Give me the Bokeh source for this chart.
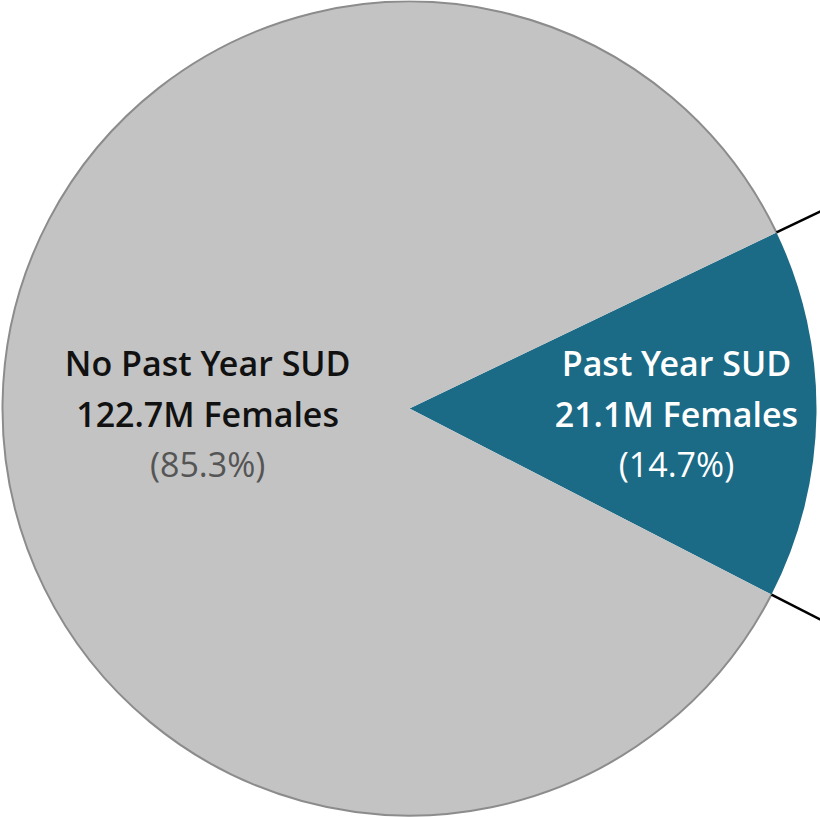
import numpy as np
from bokeh.plotting import figure
from bokeh.models import Range1d, ColumnDataSource
from bokeh.core.properties import value
from bokeh.embed import file_html
from bokeh.resources import INLINE

# ---- data ----
categories = ["Past Year SUD", "No Past Year SUD"]
counts_m = [21.1, 122.7]          # millions of females
percent_labels = ["(14.7%)", "(85.3%)"]
count_labels = ["21.1M Females", "122.7M Females"]
colors = ["#1b6a86", "#c3c3c3"]
pct_colors = ["#ffffff", "#555555"]
name_colors = ["#ffffff", "#111111"]

# ---- layout ----
W, H = 820, 817
CX, CY, R = 409.0, -408.0, 407.0
start_deg = -27.2  # start angle of first slice (degrees, anticlockwise)
label_r = [0.656, 0.496]

vals = np.array(counts_m, dtype=float)
frac = vals / vals.sum()
ends = np.deg2rad(start_deg) + np.cumsum(frac) * 2 * np.pi
starts = np.concatenate([[np.deg2rad(start_deg)], ends[:-1]])
mids = (starts + ends) / 2

p = figure(width=W, height=H, output_backend="svg", toolbar_location=None,
           x_range=Range1d(0, W), y_range=Range1d(-H, 0),
           min_border=0)
p.axis.visible = False
p.grid.visible = False
p.outline_line_color = None
p.background_fill_color = "white"
p.border_fill_color = "white"

src = ColumnDataSource(dict(x=[CX] * 2, y=[CY] * 2, start=starts, end=ends,
                            color=colors, name=categories))
p.wedge(x="x", y="y", radius=R, start_angle="start", end_angle="end",
        fill_color="color", line_color=None, source=src)

# outline of the grey slice only
p.arc(x=CX, y=CY, radius=R, start_angle=starts[1], end_angle=ends[1],
      line_color="#8c8c8c", line_width=2)

# connector lines leaving the highlighted slice
for a in [starts[0], ends[0]]:
    p.segment(x0=CX + R * np.cos(a), y0=CY + R * np.sin(a),
              x1=CX + 1.3 * R * np.cos(a), y1=CY + 1.3 * R * np.sin(a),
              line_color="black", line_width=2.5)

font_b = value("Open Sans SemiBold")
font_r = value("Open Sans")
fs = "34px"
for i in range(2):
    lx = CX + label_r[i] * R * np.cos(mids[i])
    ly = CY
    p.text(x=[lx], y=[ly + 46], text=[categories[i]], text_align="center",
           text_baseline="alphabetic", text_font=font_b, text_font_size=fs,
           text_color=name_colors[i])
    p.text(x=[lx], y=[ly - 5], text=[count_labels[i]], text_align="center",
           text_baseline="alphabetic", text_font=font_b, text_font_size=fs,
           text_color=name_colors[i])
    p.text(x=[lx], y=[ly - 55], text=[percent_labels[i]], text_align="center",
           text_baseline="alphabetic", text_font=font_r, text_font_size=fs,
           text_color=pct_colors[i])

open("out.html", "w").write(file_html(p, INLINE))
